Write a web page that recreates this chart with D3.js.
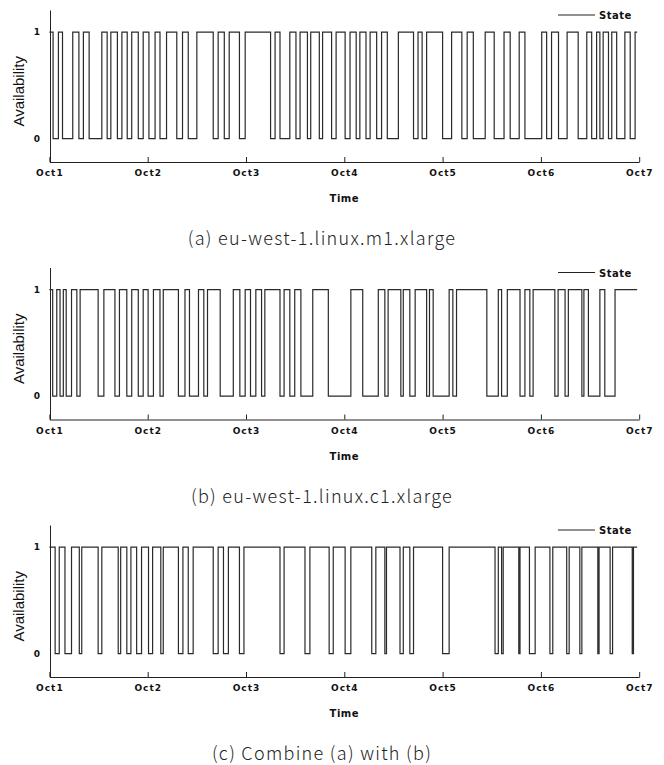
<!DOCTYPE html>
<html>
<head>
<meta charset="utf-8">
<script src="https://cdnjs.cloudflare.com/ajax/libs/d3/7.8.5/d3.min.js"></script>
<style>
  body { margin: 0; background: #fff; }
  svg { display: block; }
  .axis text { font-family: "DejaVu Sans", sans-serif; font-weight: bold; font-size: 9px; letter-spacing: 1px; fill: #111; }
  .axis path, .axis line { stroke: #222; }
  .ylab { font-family: "Liberation Sans", Arial, sans-serif; font-size: 15px; fill: #111; }
  .xlab { font-family: "DejaVu Sans", sans-serif; font-weight: bold; font-size: 10px; letter-spacing: 0.5px; fill: #111; }
  .legend { font-family: "DejaVu Sans", sans-serif; font-weight: bold; font-size: 10px; letter-spacing: 0.5px; fill: #111; }
  .caption { font-family: "Noto Sans CJK KR", "Noto Sans", sans-serif; font-weight: 300; font-size: 18px; letter-spacing: 1.3px; fill: #222; }
</style>
</head>
<body>
<svg id="chart" width="664" height="765"></svg>
<script>
// time in hours since Oct 1 00:00, intervals where the instance was available (state = 1)
const dayLabels = ["Oct1", "Oct2", "Oct3", "Oct4", "Oct5", "Oct6", "Oct7"];
const dayTicks = [0, 24, 48, 72, 96, 120, 144];
const stateTicks = [0, 1];
const endHour = 143.5;

const upA = [[0,0.9],[2.2,3.2],[5.7,7.2],[8.3,9.7],[12.8,14.1],[15.0,16.6],[17.7,19.0],[20.1,21.7],
  [22.9,24.3],[25.8,27.0],[28.6,31.1],[32.5,33.9],[36.0,40.0],[41.2,42.7],[43.9,46.4],[47.8,54.0],
  [55.1,56.3],[58.7,60.2],[61.2,63.0],[63.8,65.9],[66.7,68.9],[70.0,72.2],[73.4,74.9],[75.8,77.3],
  [78.3,79.9],[81.1,82.5],[85.2,88.9],[90.0,91.0],[92.1,96.0],[98.2,100.7],[102.0,103.5],[106.4,108.6],
  [111.0,112.5],[114.7,116.1],[120.2,121.4],[122.6,124.3],[126.4,129.1],[131.2,132.4],[133.6,134.4],
  [135.2,136.5],[137.3,138.5],[140.5,141.8],[143.0,143.5]];

const upB = [[0,0.8],[1.8,2.6],[3.4,4.1],[5.4,6.7],[7.5,11.9],[13.3,16.0],[17.1,18.9],[20.1,21.7],
  [22.9,24.1],[25.4,27.0],[27.8,31.5],[33.1,34.2],[36.4,37.7],[38.6,41.7],[44.9,46.5],[47.8,49.1],
  [50.4,51.8],[52.6,56.3],[57.3,58.7],[59.9,61.4],[64.3,68.1],[73.6,76.5],[80.3,81.9],[82.7,85.8],
  [86.4,88.0],[89.3,92.1],[92.8,93.7],[97.6,98.5],[99.4,106.8],[109.6,110.4],[111.8,114.9],[116.1,117.3],
  [118.1,123.4],[124.2,125.9],[126.7,130.0],[130.5,131.6],[134.4,135.6],[138.1,143.5]];

const upC = [[0,1.4],[2.4,3.8],[5.4,7.3],[7.9,11.9],[12.8,16.8],[17.4,18.9],[19.9,21.3],[22.5,24.2],
  [25.2,27.2],[27.8,31.5],[32.6,33.9],[35.1,40.0],[41.2,42.5],[43.7,46.4],[47.5,56.3],[57.3,62.4],
  [63.6,68.3],[69.3,72.2],[73.6,78.7],[79.7,81.9],[82.3,85.6],[86.4,88.0],[88.9,96.0],[97.6,108.8],
  [109.6,110.4],[110.8,114.6],[114.9,117.2],[118.6,122.2],[122.9,126.3],[126.9,129.5],[130.0,133.9],
  [134.2,136.9],[137.5,142.3],[142.6,143.5]];

const captions = ["(a) eu-west-1.linux.m1.xlarge", "(b) eu-west-1.linux.c1.xlarge", "(c) Combine (a) with (b)"];
const series = [upA, upB, upC];

const svg = d3.select("#chart");
const panelPitch = 257.5;

const x = d3.scaleLinear().domain([0, 144]).range([49.4, 639.2]);
const y = d3.scaleLinear().domain([-0.22, 1.207]).range([162, 10]);

function stepPoints(up) {
  const pts = [];
  if (up[0][0] > 0) pts.push([0, 0]);
  up.forEach(([s, e]) => {
    if (s > 0) pts.push([s, 0]);
    pts.push([s, 1], [e, 1]);
    if (e < endHour) pts.push([e, 0]);
  });
  return pts;
}

const line = d3.line().x(d => x(d[0])).y(d => y(d[1]));

series.forEach((up, i) => {
  const g = svg.append("g").attr("transform", `translate(0,${i * panelPitch})`);

  // x axis, ticks pointing up into the plot
  g.append("g")
    .attr("class", "axis")
    .attr("transform", `translate(0,${y(-0.22)})`)
    .call(d3.axisBottom(x).tickValues(dayTicks).tickFormat((d, k) => dayLabels[k])
      .tickSizeInner(-5).tickSizeOuter(0).tickPadding(8));

  // y axis
  g.append("g")
    .attr("class", "axis")
    .attr("transform", `translate(${x(0) + 0.6},0)`)
    .call(d3.axisLeft(y).tickValues(stateTicks).tickFormat(d3.format("d"))
      .tickSizeInner(0).tickSizeOuter(0).tickPadding(9));

  g.append("path")
    .datum(stepPoints(up))
    .attr("fill", "none")
    .attr("stroke", "#2a2a2a")
    .attr("stroke-width", 1.2)
    .attr("d", line);

  // legend
  g.append("line")
    .attr("x1", 558).attr("x2", 595)
    .attr("y1", 15).attr("y2", 15)
    .attr("stroke", "#222").attr("stroke-width", 1.2);
  g.append("text").attr("class", "legend")
    .attr("x", 599).attr("y", 19)
    .text("State");

  g.append("text").attr("class", "xlab")
    .attr("x", (x(0) + x(144)) / 2).attr("y", 202)
    .attr("text-anchor", "middle")
    .text("Time");

  g.append("text").attr("class", "ylab")
    .attr("transform", `translate(24,${(y(0) + y(1)) / 2 + 6}) rotate(-90)`)
    .attr("text-anchor", "middle")
    .text("Availability");

  g.append("text").attr("class", "caption")
    .attr("x", 322).attr("y", 245)
    .attr("text-anchor", "middle")
    .text(captions[i]);
});
</script>
</body>
</html>
